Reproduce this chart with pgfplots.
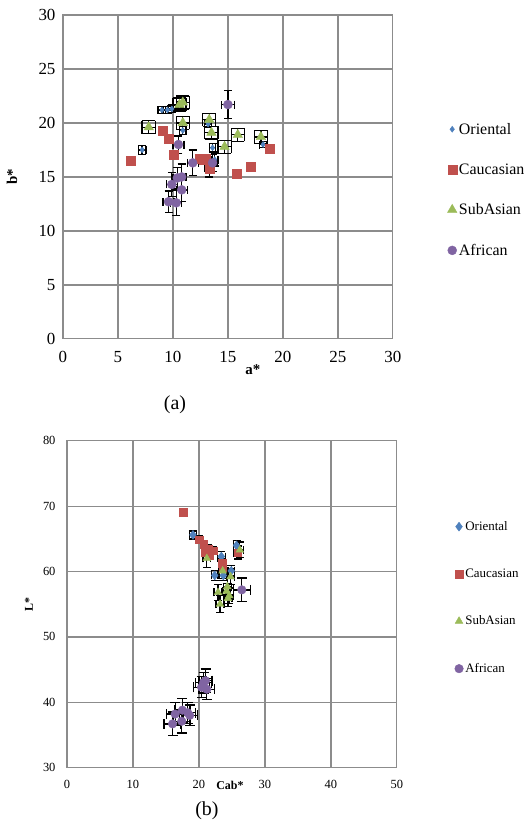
\documentclass[border=0pt]{standalone}
\usepackage{fontspec}
\setmainfont{Liberation Serif}
\usepackage{pgfplots}
\pgfplotsset{compat=1.18}

\definecolor{ori}{HTML}{4F81BD}
\definecolor{cau}{HTML}{C0504D}
\definecolor{sub}{HTML}{9BBB59}
\definecolor{afr}{HTML}{8064A2}
\definecolor{gridc}{HTML}{8C8C8C}

\pgfplotsset{
  excel/.style={
    scale only axis, width=330bp,
    grid=major, major grid style={gridc, line width=1.3bp},
    axis line style={gridc, line width=1.3bp},
    tick style={draw=none},
    /pgf/number format/assume math mode=true,
    legend cell align=left,
    legend image code/.code={\draw[mark repeat=2,mark phase=2,##1] plot coordinates {(0bp,0bp)(5bp,0bp)(10bp,0bp)};},
    error bars/x dir=both, error bars/x explicit,
    error bars/y dir=both, error bars/y explicit,
    error bars/error bar style={black, line width=1.3bp},
    error bars/error mark options={rotate=90, black, line width=1.3bp, mark size=4bp},
  },
}

\begin{document}
\begin{tikzpicture}[x=1bp, y=1bp]
\path (0,0) rectangle (529,823);

% ---------- (a) a* vs b*
\begin{axis}[excel, height=324bp, at={(63bp,484bp)}, anchor=south west,
  xmin=0, xmax=30, ymin=0, ymax=30,
  xtick={0,5,...,30}, ytick={0,5,...,30},
  tick label style={font=\fontsize{17}{20}\selectfont},
  xticklabel style={yshift=-9bp},
  yticklabel style={xshift=-4bp},
  legend style={draw=none, fill=none, at={(1.165,0.46)}, anchor=west,
    font=\fontsize{16}{19}\selectfont, row sep=24bp, inner sep=0pt},
]
\addplot[only marks, mark=diamond*, mark size=3bp, color=ori]
  coordinates {
    (9.0,21.2) +- (0.35,0.35)
    (9.5,21.2) +- (0.35,0.35)
    (9.9,21.3) +- (0.35,0.35)
    (7.2,17.5) +- (0.35,0.4)
    (10.9,19.3) +- (0.3,0.4)
    (13.6,17.7) +- (0.3,0.4)
    (13.8,16.6) +- (0.3,0.6)
    (18.2,18.0) +- (0.35,0.3)
    (13.2,19.9) +- (0.3,0.3)
    (10.6,21.7) +- (0.3,0.3)
  };
\addlegendentry{Oriental}
\addplot[only marks, mark=square*, mark size=4.5bp, color=cau]
  coordinates {
    (6.2,16.5) +- (0.3,0.3)
    (9.1,19.3) +- (0.3,0.3)
    (9.6,18.5) +- (0.3,0.3)
    (10.1,17.1) +- (0.3,0.3)
    (12.4,16.7) +- (0.3,0.3)
    (12.8,16.6) +- (0.3,0.3)
    (13.0,16.7) +- (0.3,0.3)
    (13.3,15.8) +- (0.4,0.8)
    (15.8,15.3) +- (0.3,0.3)
    (17.1,15.9) +- (0.3,0.3)
    (18.8,17.6) +- (0.3,0.3)
  };
\addlegendentry{Caucasian}
\addplot[only marks, mark=triangle*, mark size=5.5bp, color=sub,
  error bars/error mark options={rotate=90, black, line width=1.3bp, mark size=6.5bp}]
  coordinates {
    (7.8,19.6) +- (0.6,0.6)
    (10.6,21.7) +- (0.6,0.6)
    (10.9,21.9) +- (0.6,0.6)
    (10.9,20.0) +- (0.6,0.6)
    (13.3,20.3) +- (0.6,0.6)
    (13.5,19.1) +- (0.6,0.6)
    (14.7,17.8) +- (0.6,0.6)
    (15.9,18.9) +- (0.6,0.6)
    (18.0,18.7) +- (0.6,0.6)
  };
\addlegendentry{SubAsian}
\addplot[only marks, mark=*, mark size=4.5bp, color=afr]
  coordinates {
    (15.0,21.7) +- (0.6,1.3)
    (10.5,18.0) +- (0.5,0.8)
    (11.8,16.3) +- (0.5,1.2)
    (13.6,16.3) +- (0.4,0.8)
    (10.8,15.0) +- (0.4,1.2)
    (10.4,14.9) +- (0.4,1.0)
    (9.9,14.3) +- (0.5,1.1)
    (10.8,13.8) +- (0.5,1.1)
    (9.6,12.7) +- (0.5,1.0)
    (10.3,12.6) +- (0.5,1.2)
  };
\addlegendentry{African}
\end{axis}

% ---------- (b) Cab* vs L*
\begin{axis}[excel, height=327bp, at={(67bp,55bp)}, anchor=south west,
  xmin=0, xmax=50, ymin=30, ymax=80,
  xtick={0,10,...,50}, ytick={30,40,...,80},
  tick label style={font=\fontsize{12.5}{15}\selectfont},
  xticklabel style={yshift=-9bp},
  yticklabel style={xshift=-8bp},
  legend style={draw=none, fill=none, at={(1.175,0.52)}, anchor=west,
    font=\fontsize{13}{15}\selectfont, row sep=33bp, inner sep=0pt},
]
\addplot[only marks, mark=diamond*, mark size=4.5bp, color=ori]
  coordinates {
    (19.1,65.6) +- (0.5,0.6)
    (25.7,64.0) +- (0.5,0.8)
    (23.4,62.3) +- (0.6,0.8)
    (22.4,59.4) +- (0.5,0.8)
    (24.9,60.1) +- (0.5,0.8)
    (23.7,59.4) +- (0.6,0.8)
  };
\addlegendentry{Oriental}
\addplot[only marks, mark=square*, mark size=3.8bp, color=cau]
  coordinates {
    (17.6,69.1) +- (0.4,0.5)
    (20.0,64.9) +- (0.4,0.6)
    (20.7,64.2) +- (0.4,0.6)
    (21.4,63.5) +- (0.4,0.6)
    (22.2,63.2) +- (0.4,0.6)
    (20.9,62.9) +- (0.4,0.6)
    (21.6,62.5) +- (0.4,0.6)
    (23.5,61.3) +- (0.4,0.6)
    (23.6,60.7) +- (0.4,0.6)
    (25.9,62.9) +- (0.6,1.0)
  };
\addlegendentry{Caucasian}
\addplot[only marks, mark=triangle*, mark size=4.5bp, color=sub]
  coordinates {
    (21.2,62.0) +- (0.6,1.4)
    (26.2,63.3) +- (0.6,1.2)
    (23.6,60.1) +- (0.6,1.2)
    (24.8,59.2) +- (0.6,1.2)
    (22.9,56.8) +- (0.6,1.2)
    (24.3,57.7) +- (0.6,1.2)
    (24.2,57.0) +- (0.6,1.2)
    (24.6,56.3) +- (0.6,1.2)
    (23.2,55.0) +- (0.6,1.3)
    (24.4,55.9) +- (0.6,1.2)
  };
\addlegendentry{SubAsian}
\addplot[only marks, mark=*, mark size=4.3bp, color=afr,
  error bars/error mark options={rotate=90, black, line width=1.3bp, mark size=5bp}]
  coordinates {
    (26.5,57.2) +- (1.3,1.8)
    (20.7,43.0) +- (1.2,1.6)
    (21.0,43.3) +- (1.0,1.8)
    (20.4,42.3) +- (1.2,1.6)
    (21.2,42.0) +- (1.2,1.6)
    (16.4,38.2) +- (1.3,1.8)
    (17.5,38.8) +- (1.2,1.8)
    (18.3,38.4) +- (1.2,1.6)
    (18.6,38.0) +- (1.2,1.6)
    (16.0,36.7) +- (1.3,1.8)
    (17.4,37.1) +- (1.3,1.8)
  };
\addlegendentry{African}
\end{axis}

% axis titles and captions
\node[font=\bfseries\fontsize{15}{18}\selectfont] at (253,453) {a*};
\node[font=\bfseries\fontsize{15}{18}\selectfont, rotate=90] at (12,646) {b*};
\node[font=\fontsize{20}{24}\selectfont] at (175,418) {(a)};
\node[font=\bfseries\fontsize{12}{14}\selectfont] at (230,37) {Cab*};
\node[font=\bfseries\fontsize{12}{14}\selectfont, rotate=90] at (29,218) {L*};
\node[font=\fontsize{20}{24}\selectfont] at (207,12) {(b)};
\end{tikzpicture}
\end{document}
